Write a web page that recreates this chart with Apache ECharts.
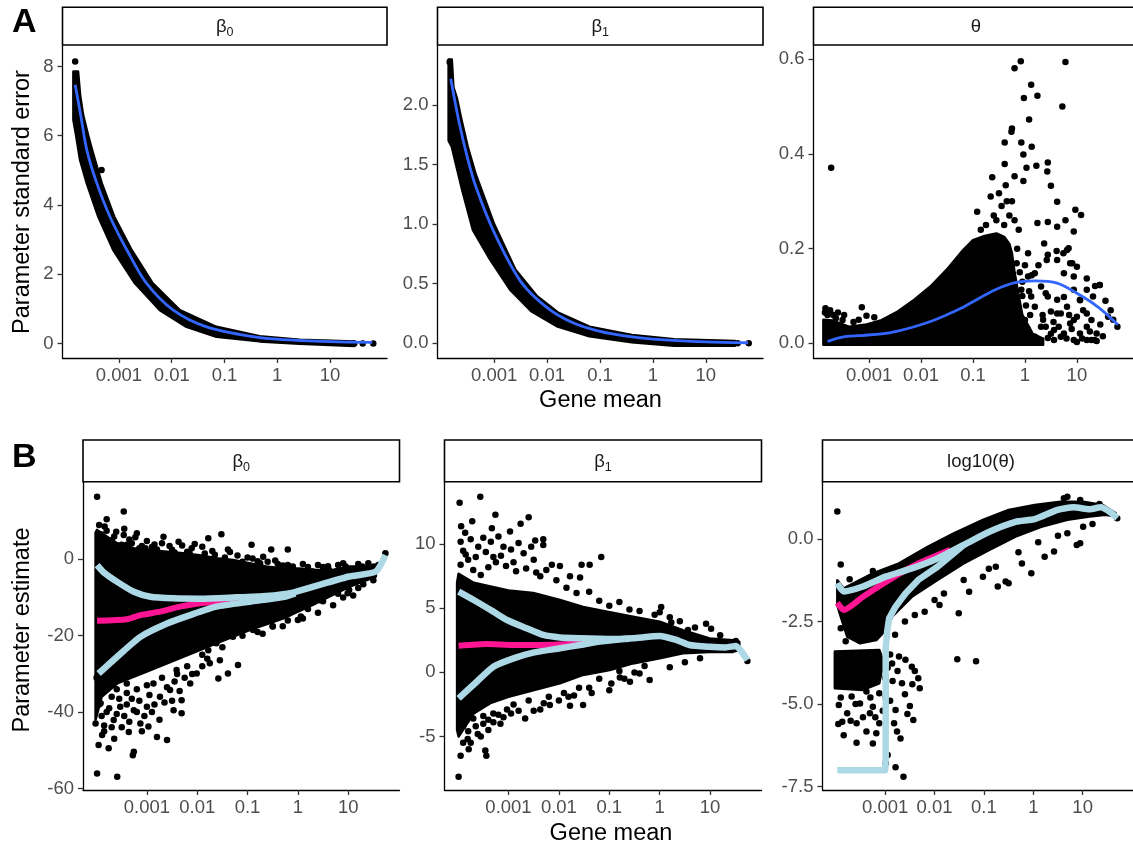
<!DOCTYPE html>
<html><head><meta charset="utf-8">
<script src="https://cdn.jsdelivr.net/npm/echarts@6/dist/echarts.min.js"></script>
<style>html,body{margin:0;padding:0;background:#fff}#c{width:1133px;height:849px}</style>
</head><body><div id="c"></div>
<script>
// ---------- DATA (x values are log10(gene mean)) ----------
const xTickValues = [-3, -2, -1, 0, 1];
const xTickLabels = ['0.001', '0.01', '0.1', '1', '10'];
const xTitle = 'Gene mean';
const yTitleA = 'Parameter standard error';
const yTitleB = 'Parameter estimate';
const stripsA = ['{b|β}{s|0}', '{b|β}{s|1}', '{b|θ}'];
const stripsB = ['{b|β}{s|0}', '{b|β}{s|1}', '{b|log10(θ)}'];
const yTicksA1 = [0, 2, 4, 6, 8],        yLabelsA1 = ['0', '2', '4', '6', '8'];
const yTicksA2 = [0, 0.5, 1, 1.5, 2],    yLabelsA2 = ['0.0', '0.5', '1.0', '1.5', '2.0'];
const yTicksA3 = [0, 0.2, 0.4, 0.6],     yLabelsA3 = ['0.0', '0.2', '0.4', '0.6'];
const yTicksB1 = [-60, -40, -20, 0],     yLabelsB1 = ['-60', '-40', '-20', '0'];
const yTicksB2 = [-5, 0, 5, 10],         yLabelsB2 = ['-5', '0', '5', '10'];
const yTicksB3 = [-7.5, -5, -2.5, 0],    yLabelsB3 = ['-7.5', '-5.0', '-2.5', '0.0'];

// A: standard error of beta0
const seB0Upper = [[-3.864,7.85],[-3.775,7.85],[-3.737,7.18],[-3.68,6.6],[-3.586,6.02],[-3.51,5.59],[-3.422,5.13],[-3.327,4.63],[-3.089,3.66],[-2.76,2.7],[-2.363,1.74],[-1.847,0.96],[-1.153,0.48],[-0.335,0.21],[0.422,0.11],[1.46,0.06]];
const seB0Lower = [[-3.864,6.46],[-3.813,6.02],[-3.737,5.3],[-3.611,4.63],[-3.391,3.66],[-3.108,2.7],[-2.698,1.74],[-2.225,0.96],[-1.72,0.48],[-1.153,0.19],[-0.335,0.06],[0.422,-0.01],[1.46,-0.07]];
const seB0Points = [[-3.83,8.14],[-3.33,5.01],[1.46,0.0],[1.62,0.0],[1.82,0.0]];
const seB0Fit = [[-3.83,7.47],[-3.72,6.55],[-3.61,5.59],[-3.42,4.63],[-3.17,3.66],[-2.85,2.70],[-2.48,1.74],[-1.97,0.96],[-1.34,0.48],[-0.33,0.17],[0.5,0.08],[1.0,0.05],[1.8,0.03]];

// A: standard error of beta1
const seB1Upper = [[-3.86,2.38],[-3.80,2.38],[-3.77,2.15],[-3.70,2.05],[-3.62,1.88],[-3.50,1.65],[-3.35,1.42],[-3.0,1.0],[-2.6,0.62],[-2.2,0.40],[-1.8,0.26],[-1.2,0.14],[-0.4,0.07],[0.4,0.035],[1.55,0.02]];
const seB1Lower = [[-3.86,1.70],[-3.80,1.65],[-3.72,1.5],[-3.6,1.28],[-3.4,0.95],[-3.1,0.72],[-2.7,0.45],[-2.3,0.27],[-1.8,0.14],[-1.2,0.06],[-0.4,0.01],[0.4,-0.02],[1.55,-0.02]];
const seB1Points = [[-3.84,2.36],[1.6,0.0],[1.81,0.0]];
const seB1Fit = [[-3.82,2.22],[-3.66,1.85],[-3.5,1.55],[-3.35,1.32],[-3.0,0.93],[-2.5,0.52],[-2.0,0.30],[-1.5,0.17],[-1.0,0.10],[-0.5,0.06],[0,0.035],[1,0.012],[1.8,0.005]];

// A: standard error of theta
const seThUpper = [[-3.88,0.05],[-3.70,0.048],[-3.39,0.035],[-3.08,0.039],[-2.76,0.049],[-2.45,0.067],[-2.13,0.092],[-1.82,0.12],[-1.51,0.155],[-1.19,0.197],[-1.0,0.218],[-0.8,0.226],[-0.55,0.232],[-0.4,0.225],[-0.3,0.21],[-0.25,0.19],[-0.2,0.15],[-0.12,0.1],[-0.05,0.06],[0.15,0.02],[0.35,0.01]];
const seThLower = [[-3.88,-0.003],[0.35,-0.003]];
const seThPoints = [[-3.73,0.371],[-0.08,0.596],[-0.20,0.581],[0.78,0.594],[0.12,0.546],[-0.02,0.518],[0.24,0.523],[0.72,0.500],[0.08,0.473],[-0.25,0.454],[-0.26,0.447],[-0.39,0.424],[-0.07,0.424],[0.13,0.415],[-0.03,0.399],[-0.39,0.379],[0.44,0.382],[0.22,0.375],[0.03,0.371],[0.43,0.363],[0.50,0.333],[-0.63,0.351],[-0.20,0.353],[-0.03,0.343],[-0.37,0.334],[0.62,0.299],[0.97,0.282],[1.08,0.271],[-0.92,0.278],[-0.66,0.310],[-0.50,0.317],[0.24,0.254],[0.44,0.256],[0.62,0.246],[0.78,0.260],[0.94,0.236],[1.35,0.121],[1.44,0.123],[1.28,0.007],[1.38,0.005],[1.78,0.035],[1.60,0.056],[0.74,0.190],[0.84,0.201],[0.61,0.195],[0.42,0.176],[0.26,0.165],[0.13,0.144],[0.91,0.169],[1.00,0.162],[0.94,0.141],[1.19,0.137],[0.40,0.106],[0.75,0.098],[1.06,0.091],[0.62,0.063],[0.94,0.049],[1.19,0.063],[0.40,0.035],[0.75,0.021],[1.00,0.003],[0.56,0.007],[0.19,0.014],[-3.14,0.076],[-3.05,0.058],[-3.84,0.074],[-3.48,0.060],[-3.69,0.060],[-3.80,0.060],[-3.64,0.053],[-3.51,0.049],[-0.16,0.169],[0.0,0.165],[0.06,0.141],[-0.07,0.113],[-0.13,0.077],[0.0,0.049],[-0.10,0.028],[0.19,0.148],[0.31,0.120],[0.44,0.099],[0.19,0.077],[0.34,0.060],[0.50,0.067],[0.62,0.092],[0.69,0.063],[0.81,0.077],[0.87,0.042],[1.00,0.056],[1.12,0.070],[1.19,0.035],[1.31,0.099],[1.38,0.021],[1.44,0.123],[1.19,0.113],[1.06,0.092],[0.94,0.113],[0.75,0.148],[0.87,0.169],[0.62,0.176],[0.44,0.187],[0.81,0.197],[0.37,0.211],[0.06,0.190],[0.44,0.011],[0.69,0.014],[0.94,0.007],[1.19,0.007],[1.34,0.007],[1.28,0.049],[1.06,0.021],[0.56,0.028],[0.31,0.035],[0.12,0.099],[-0.75,0.25],[-0.6,0.27],[-0.45,0.29],[-0.35,0.30],[-0.55,0.26],[-0.3,0.27],[-0.2,0.26],[-0.12,0.24],[-0.25,0.30],[-0.85,0.24],[-0.4,0.25],[-0.15,0.20],[-0.1,0.15],[-0.05,0.10],[0.02,0.08],[0.05,0.03],[-0.05,0.13],[0.1,0.06],[0.08,0.11],[0.3,0.005],[0.5,0.02],[0.65,0.035],[0.8,0.01],[0.9,0.03],[1.1,0.01],[1.25,0.025],[1.5,0.015],[0.35,0.05],[0.55,0.045],[0.85,0.06],[1.45,0.04],[1.55,0.09],[1.65,0.07],[1.7,0.05],[-3.85,0.065],[-3.75,0.07],[-3.6,0.065],[-3.3,0.045],[-3.2,0.05],[-2.9,0.055]];
const seThFit = [[-3.80,0.004],[-3.6,0.011],[-3.39,0.015],[-3.1,0.017],[-2.76,0.020],[-2.45,0.026],[-2.13,0.035],[-1.82,0.046],[-1.51,0.060],[-1.25,0.073],[-1.0,0.088],[-0.57,0.113],[-0.19,0.128],[0.19,0.132],[0.62,0.127],[1.06,0.102],[1.44,0.074],[1.79,0.039]];

// B: estimate of beta0
const estB0Upper = [[-4.02,7.0],[-3.99,7.7],[-3.79,5.9],[-3.59,4.2],[-3.26,2.9],[-2.93,2.4],[-2.60,2.0],[-2.28,1.6],[-1.95,1.1],[-1.62,0.3],[-1.29,-0.2],[-0.96,-1.0],[-0.63,-1.9],[-0.30,-2.4],[0.03,-2.4],[0.36,-2.8],[0.69,-2.8],[1.02,-1.9],[1.35,-1.9],[1.55,-2.4]];
const estB0Lower = [[-4.02,-42],[-3.9,-36],[-3.59,-32.5],[-2.93,-29],[-2.28,-25.5],[-1.62,-22],[-0.96,-18.5],[-0.30,-15.5],[0.36,-11.5],[1.02,-7.2],[1.55,-4.5]];
const estB0Points = [[-3.99,16.4],[-3.46,12.5],[-3.80,10.5],[-3.84,8.6],[-3.61,7.2],[-3.46,6.4],[-3.23,5.8],[-2.67,5.9],[-1.52,6.6],[-1.78,5.5],[-2.37,4.6],[-3.03,2.9],[-2.11,2.9],[-1.39,2.6],[-0.92,3.8],[-0.53,2.6],[-0.20,2.6],[-0.69,0.7],[-0.6,-0.6],[-0.10,-1.9],[0.06,-15.0],[0.0,-15.9],[-0.17,-14.1],[-0.50,-17.6],[-0.63,-16.3],[-0.89,-18.5],[-1.19,-27.7],[-1.39,-29.9],[-1.58,-31.2],[-1.75,-27.2],[-1.55,-26.4],[-2.14,-32.5],[-2.01,-29.9],[-2.31,-36.9],[-2.31,-40.3],[-2.47,-39.5],[-2.60,-47.3],[-2.80,-46.5],[-2.97,-43.8],[-3.26,-50.4],[-3.28,-51.3],[-3.59,-56.9],[-3.99,-56.1],[-3.96,-48.6],[-3.76,-49.5],[-3.89,-46.0],[-4.02,-43.0],[-3.66,-42.1],[-3.36,-45.2],[-3.13,-43.0],[-3.53,-38.6],[-3.26,-39.5],[-3.0,-38.6],[-2.74,-36.0],[-2.54,-34.2],[-3.92,-37.7],[-2.87,-32.5],[-2.41,-29.0],[-1.78,-23.8],[-1.98,-20.3],[-1.62,-22.0],[-1.29,-20.3],[-1.02,-17.6],[0.99,-8.9],[1.02,-8.0],[1.74,1.6],[1.51,-1.9],[1.28,-1.9],[0.95,-1.9],[0.62,-2.8],[0.29,-3.2],[0.59,-8.0],[0.43,-10.7],[0.16,-12.4],[-3.9,4.5],[-3.7,5.0],[-3.5,3.8],[-3.3,4.2],[-3.1,3.5],[-2.9,3.2],[-2.5,2.5],[-2.2,2.0],[-1.9,3.3],[-1.7,2.2],[-1.2,1.0],[-1.0,0.5],[-0.8,-0.5],[-0.4,-1.2],[-0.2,-1.5],[0.2,-2.0],[0.5,-2.0],[0.8,-1.5],[1.2,-1.2],[1.4,-1.0],[1.6,-1.5],[1.5,-3.6],[1.2,-4.6],[-3.8,-40],[-3.7,-36],[-3.4,-35],[-3.2,-34],[-3.0,-33],[-2.7,-31],[-2.4,-30],[-2.2,-28],[-1.9,-25],[-1.5,-23],[-1.1,-20],[-0.8,-19],[-0.5,-17.5],[-0.2,-16],[0.2,-13],[0.5,-11],[0.8,-9],[1.2,-7.5],[-3.5,-44],[-3.85,-45],[-3.95,-38],[-3.9,-41],[-3.85,-43.5],[-3.75,-39],[-3.7,-44],[-3.65,-47],[-3.6,-40.5],[-3.55,-36.5],[-3.45,-41],[-3.4,-38],[-3.35,-42.5],[-3.3,-36.5],[-3.2,-40],[-3.15,-37],[-3.1,-45],[-3.05,-41],[-2.95,-35.5],[-2.9,-40],[-2.85,-38],[-2.75,-42],[-2.65,-37.5],[-2.6,-33.5],[-2.5,-37],[-2.45,-32],[-2.35,-34.5],[-2.25,-31],[-2.1,-30],[-1.9,-28],[-1.8,-26],[-3.8,-34],[-3.6,-34],[-3.4,-32.5],[-3.95,-33],[-4.0,-31],[-3.95,9],[-3.9,6.5],[-3.85,3.5],[-3.8,7.5],[-3.75,2.8],[-3.65,6],[-3.55,3.2],[-3.45,8],[-3.4,3.8],[-3.35,5.2],[-3.2,6.8],[-3.15,2.9],[-3.0,4.8],[-2.85,3.9],[-2.8,2.6],[-2.7,4.2],[-2.55,3.5],[-2.45,1.8],[-2.3,3.6],[-2.15,1.5],[-2.05,4.0],[-1.85,1.5],[-1.65,1.2],[-1.45,0.5],[-1.35,1.9],[-1.1,-0.6],[-0.9,0.2],[-0.75,-1.0],[-0.45,-0.3],[-0.3,-1.6],[0.1,-1.2],[0.4,-1.5],[0.6,-1.8],[0.9,-1.0],[0.9,-10],[0.7,-12],[0.4,-14],[0.1,-15.5],[-0.3,-17.5],[-0.7,-19.5],[1.3,-6.5],[1.5,-5.5],[1.1,-9.5]];
const estB0Hi = [[-3.99,-1.5],[-3.85,-3.5],[-3.59,-5.9],[-3.26,-8.5],[-2.93,-9.8],[-2.47,-10.2],[-1.95,-10.3],[-1.29,-10.0],[-0.63,-9.6],[-0.10,-8.7],[0.43,-6.7],[1.02,-4.5],[1.55,-3.2],[1.74,1.1]];
const estB0Lo = [[-3.96,-29.9],[-3.59,-25.5],[-3.13,-20.3],[-2.60,-16.8],[-2.14,-14.6],[-1.62,-12.4],[-0.96,-11.1],[-0.30,-9.9],[-0.05,-8.9]];
const estB0Mid = [[-3.99,-16.1],[-3.40,-15.7],[-3.13,-14.6],[-2.74,-13.7],[-2.34,-12.4],[-1.95,-11.5],[-1.55,-11.0],[-1.2,-10.5]];

// B: estimate of beta1
const estB1Upper = [[-4.02,7.0],[-3.99,7.7],[-3.69,7.0],[-3.36,6.7],[-3.0,6.4],[-2.51,6.2],[-1.98,5.65],[-1.52,5.1],[-0.99,4.7],[-0.53,4.35],[0.0,3.96],[0.46,3.3],[0.99,2.65],[1.45,2.5],[1.58,2.4]];
const estB1Lower = [[-4.02,-4.5],[-3.99,-5.0],[-3.69,-3.2],[-3.36,-2.4],[-3.0,-1.9],[-2.51,-1.4],[-1.98,-0.86],[-1.52,-0.2],[-0.99,0.18],[-0.53,0.7],[0.0,1.1],[0.46,1.5],[0.99,1.6],[1.45,1.6],[1.58,1.75]];
const estB1Points = [[-3.97,13.25],[-3.56,13.7],[-3.26,12.3],[-2.60,12.1],[-2.76,11.6],[-3.72,11.8],[-3.94,11.4],[-3.86,10.9],[-3.33,11.25],[-2.97,11.0],[-2.47,10.3],[-2.31,10.4],[-2.31,9.95],[-1.16,9.0],[-1.55,8.4],[-1.39,8.4],[-2.14,8.4],[-1.78,7.5],[-1.58,7.4],[-2.37,7.5],[-1.98,8.3],[0.03,5.1],[0.0,4.7],[0.23,3.9],[0.56,3.3],[0.92,3.8],[1.02,3.4],[1.51,2.45],[1.74,0.89],[-3.99,-8.15],[-3.81,-5.2],[-3.79,-6.0],[-3.46,-6.1],[-3.44,-6.5],[-3.61,-4.8],[-3.16,-4.0],[-2.67,-3.6],[-3.40,-3.7],[-3.03,-2.9],[-2.37,-2.9],[-2.18,-2.55],[-1.78,-2.6],[-1.52,-2.55],[-1.35,-1.6],[-1.81,-1.9],[-0.96,-0.86],[-0.79,-0.39],[-0.20,-0.6],[-0.59,-0.73],[-0.40,-0.08],[-3.9,9.5],[-3.8,8.8],[-3.6,9.8],[-3.5,10.5],[-3.3,9.0],[-3.1,9.8],[-2.9,8.6],[-2.7,9.3],[-3.7,8.0],[-3.4,8.2],[-2.5,8.8],[-3.95,10.2],[-3.2,10.6],[-2.8,10.1],[-3.55,7.6],[-3.9,-4.2],[-3.85,-3.8],[-3.7,-3.6],[-3.5,-3.4],[-3.3,-3.2],[-2.9,-2.5],[-2.6,-2.2],[-2.2,-1.9],[-1.9,-1.6],[-1.6,-1.2],[-1.2,-0.5],[-0.8,0.1],[-0.3,0.5],[-3.95,-6.5],[-3.9,-5.5],[-3.8,-4.6],[-3.75,-5.5],[-3.65,-4.2],[-3.55,-5.0],[-3.5,-4.0],[-3.4,-4.5],[-3.3,-3.9],[-3.2,-3.3],[-3.1,-3.5],[-2.95,-3.2],[-2.8,-3.0],[-2.5,-3.0],[-2.3,-2.4],[-2.0,-2.2],[-1.7,-1.8],[-1.4,-1.2],[-1.0,-1.4],[-0.7,-0.5],[-0.5,0.0],[0.2,0.4],[0.5,0.8],[0.8,1.1],[-3.95,8.4],[-3.85,9.2],[-3.75,10.4],[-3.65,9.0],[-3.45,9.4],[-3.35,10.2],[-3.25,8.6],[-3.15,9.1],[-3.05,8.3],[-2.95,9.6],[-2.85,7.9],[-2.65,8.1],[-2.55,9.8],[-2.45,7.8],[-2.25,8.0],[-2.05,7.2],[-1.85,6.6],[-1.65,6.2],[-1.4,6.3],[-1.2,5.6],[-1.0,5.2],[-0.8,5.5],[-0.6,4.9],[-0.4,4.8],[-0.1,4.5],[0.2,4.3],[0.4,4.0],[0.7,3.5],[1.2,2.9]];
const estB1Hi = [[-3.99,6.3],[-3.69,5.65],[-3.30,4.74],[-3.03,4.09],[-2.64,3.44],[-2.31,2.92],[-1.98,2.73],[-1.58,2.66],[-1.19,2.62],[-0.86,2.6],[-0.53,2.66],[0.0,2.84],[0.33,2.53],[0.59,2.14],[0.99,2.0],[1.31,1.95],[1.51,2.06],[1.74,0.96]];
const estB1Lo = [[-3.99,-2.03],[-3.63,-0.73],[-3.30,0.44],[-2.90,1.09],[-2.51,1.54],[-1.98,1.88],[-1.58,2.14],[-1.19,2.4],[-0.86,2.55],[-0.6,2.62]];
const estB1Mid = [[-3.99,2.08],[-3.43,2.21],[-2.90,2.14],[-2.37,2.14],[-1.85,2.19],[-1.45,2.27]];

// B: estimate of log10(theta)
const estThUpper = [[-3.97,-1.25],[-3.84,-1.5],[-3.77,-1.44],[-3.25,-1.04],[-2.72,-0.74],[-2.13,-0.23],[-1.61,0.17],[-1.02,0.58],[-0.50,0.88],[0.03,1.03],[0.55,1.13],[1.01,1.13],[1.41,1.03],[1.67,0.78]];
const estThLower = [[-3.97,-2.0],[-3.90,-2.35],[-3.77,-2.96],[-3.51,-3.16],[-3.18,-3.06],[-2.99,-2.76],[-2.86,-2.35],[-2.46,-1.75],[-1.94,-1.24],[-1.41,-0.74],[-0.89,-0.33],[-0.36,0.07],[0.16,0.37],[0.69,0.58],[1.14,0.68],[1.47,0.73],[1.67,0.68]];
const estThBlockUpper = [[-4.02,-3.41],[-3.12,-3.36],[-3.06,-3.6]];
const estThBlockLower = [[-4.02,-4.52],[-3.45,-4.57],[-3.12,-4.37],[-3.06,-3.9]];
const estThPoints = [[-3.97,0.83],[-3.90,-0.77],[-3.72,-1.22],[-3.25,-0.97],[-1.54,-3.64],[-1.16,-3.70],[-1.51,-2.25],[-2.20,-2.20],[-2.0,-1.85],[-1.81,-1.65],[-1.41,-1.24],[-1.02,-1.14],[-0.76,-0.84],[-0.50,-1.34],[-0.23,-0.74],[-0.04,-1.04],[0.23,-0.54],[0.42,-0.38],[0.88,-0.18],[0.95,-0.13],[0.69,0.17],[1.01,0.37],[-0.72,-1.44],[-0.56,-1.29],[-3.94,-5.03],[-3.87,-5.53],[-3.84,-5.94],[-3.58,-6.17],[-3.38,-5.83],[-3.25,-6.19],[-3.18,-5.88],[-3.12,-5.58],[-2.82,-5.58],[-2.76,-5.83],[-2.69,-6.04],[-2.43,-5.48],[-2.50,-5.06],[-2.30,-4.52],[-2.33,-4.22],[-2.46,-3.87],[-2.59,-3.66],[-2.72,-3.56],[-2.86,-3.77],[-2.79,-5.18],[-2.66,-4.37],[-2.99,-4.77],[-3.77,-5.28],[-3.31,-5.28],[-3.51,-4.98],[-3.68,-4.77],[-2.99,-6.79],[-2.79,-6.91],[-2.63,-7.20],[-2.95,-6.54],[-3.58,-5.58],[-3.25,-5.08],[-3.38,-4.62],[-3.12,-4.67],[0.62,1.23],[0.69,1.28],[0.95,1.18],[1.34,1.06],[1.70,0.63],[-2.6,-2.5],[-2.4,-2.3],[-1.9,-2.0],[-1.3,-1.6],[-0.9,-0.9],[-0.3,-0.4],[0.1,-0.1],[0.5,0.1],[1.2,0.45],[-2.8,-2.9],[-3.9,-2.7],[-3.8,-3.1],[-2.9,-3.5],[-2.95,-3.9],[-3.0,-4.2],[-3.6,-5.0],[-3.45,-5.4],[-3.3,-4.8],[-3.2,-5.4],[-3.05,-5.2],[-2.9,-4.9],[-2.85,-4.3],[-2.75,-4.0],[-2.6,-4.7],[-2.55,-5.3],[-2.45,-4.4],[-2.4,-4.0],[-3.7,-5.5],[-3.9,-4.8],[-3.95,-5.6]];
const estThHi = [[-3.97,-1.34],[-3.84,-1.59],[-3.45,-1.44],[-2.99,-1.14],[-2.46,-0.89],[-1.94,-0.59],[-1.41,-0.18],[-0.89,0.22],[-0.36,0.52],[0.03,0.60],[0.49,0.88],[0.82,0.96],[1.14,0.90],[1.37,0.96],[1.54,0.83],[1.70,0.63]];
const estThLo = [[-3.97,-7.0],[-3.0,-7.0],[-2.99,-6.6],[-2.99,-3.3],[-2.96,-2.8],[-2.92,-2.4],[-2.79,-2.05],[-2.59,-1.65],[-2.33,-1.24],[-1.94,-0.84],[-1.61,-0.43],[-1.41,-0.18]];
const estThMid = [[-3.97,-1.93],[-3.84,-2.15],[-3.45,-1.75],[-2.92,-1.24],[-2.33,-0.74],[-1.68,-0.33]];

// ---------- LAYOUT & STYLE ----------
const FONT = '"Liberation Sans", Arial, Helvetica, sans-serif';
const BLUE = '#3366FF', LIGHT = '#ADD8E6', PINK = '#FF1493';
const rowA = {top: 46, height: 312, xr: [-4.07, 2.08], stripY: 7.3, stripH: 37.7};
const rowB = {top: 482, height: 308, xr: [-4.27, 2.02], stripY: 440, stripH: 41.7};
const layout = [
  Object.assign({left: 62.5, width: 324.5}, rowA),
  Object.assign({left: 437.5, width: 325.5}, rowA),
  Object.assign({left: 813.5, width: 325}, rowA),
  Object.assign({left: 83, width: 316.5}, rowB),
  Object.assign({left: 444.5, width: 317}, rowB),
  Object.assign({left: 822.5, width: 317}, rowB)
];
const panels = [
  {strip: stripsA[0], yr: [-0.42, 8.59], yt: yTicksA1, yl: yLabelsA1, bands: [[seB0Upper, seB0Lower]], points: seB0Points,
   lines: [{d: seB0Fit, c: BLUE, w: 2.8, s: 0.3}]},
  {strip: stripsA[1], yr: [-0.123, 2.494], yt: yTicksA2, yl: yLabelsA2, bands: [[seB1Upper, seB1Lower]], points: seB1Points,
   lines: [{d: seB1Fit, c: BLUE, w: 2.8, s: 0.3}]},
  {strip: stripsA[2], yr: [-0.031, 0.628], yt: yTicksA3, yl: yLabelsA3, bands: [[seThUpper, seThLower]], points: seThPoints,
   lines: [{d: seThFit, c: BLUE, w: 2.8, s: 0.3}]},
  {strip: stripsB[0], yr: [-60.4, 20.25], yt: yTicksB1, yl: yLabelsB1, bands: [[estB0Upper, estB0Lower]], points: estB0Points,
   lines: [{d: estB0Mid, c: PINK, w: 6, s: 0.2}, {d: estB0Lo, c: LIGHT, w: 6.5, s: 0.2}, {d: estB0Hi, c: LIGHT, w: 6.5, s: 0.2}]},
  {strip: stripsB[1], yr: [-9.18, 14.86], yt: yTicksB2, yl: yLabelsB2, bands: [[estB1Upper, estB1Lower]], points: estB1Points,
   lines: [{d: estB1Mid, c: PINK, w: 6, s: 0.2}, {d: estB1Lo, c: LIGHT, w: 6.5, s: 0.2}, {d: estB1Hi, c: LIGHT, w: 6.5, s: 0.2}]},
  {strip: stripsB[2], yr: [-7.6, 1.725], yt: yTicksB3, yl: yLabelsB3, bands: [[estThUpper, estThLower], [estThBlockUpper, estThBlockLower]], points: estThPoints,
   lines: [{d: estThMid, c: PINK, w: 6, s: 0.2}, {d: estThLo, c: LIGHT, w: 6.5, s: false}, {d: estThHi, c: LIGHT, w: 6.5, s: 0.2}]}
];

function makeAxis(dim, i, range, ticks, labels) {
  const fmt = v => { const k = ticks.findIndex(t => Math.abs(t - v) < 1e-9); return k >= 0 ? labels[k] : ''; };
  return {
    type: 'value', gridIndex: i, min: range[0], max: range[1], scale: true,
    axisLine: {show: true, onZero: false, lineStyle: {color: '#000', width: 1.3}},
    axisTick: {show: true, customValues: ticks, length: 5, lineStyle: {color: '#333', width: 1.3}},
    axisLabel: {show: true, customValues: ticks, formatter: fmt, color: '#4d4d4d', fontSize: 18.5, fontFamily: FONT, margin: dim === 'x' ? 8 : 9},
    splitLine: {show: false}
  };
}
function bandSeries(i, upper, lower) {
  const ring = upper.concat(lower.slice().reverse());
  return {
    type: 'custom', xAxisIndex: i, yAxisIndex: i, data: ring, encode: {x: 0, y: 1}, silent: true, z: 2, clip: true,
    renderItem: (params, api) => params.dataIndex !== 0 ? null : {
      type: 'polygon', shape: {points: ring.map(p => api.coord(p))},
      style: {fill: '#000', stroke: '#000', lineWidth: 2.5, lineJoin: 'round'}
    }
  };
}

const stripRich = {
  b: {fontSize: 18.5, lineHeight: 24, fill: '#1a1a1a', fontFamily: FONT},
  s: {fontSize: 12.5, lineHeight: 12, verticalAlign: 'bottom', fill: '#1a1a1a', fontFamily: FONT}
};
const grids = [], xAxes = [], yAxes = [], series = [], graphics = [];
panels.forEach((p, i) => {
  const L = layout[i];
  grids.push({left: L.left, top: L.top, width: L.width, height: L.height, containLabel: false});
  xAxes.push(makeAxis('x', i, L.xr, xTickValues, xTickLabels));
  yAxes.push(makeAxis('y', i, p.yr, p.yt, p.yl));
  p.bands.forEach(b => series.push(bandSeries(i, b[0], b[1])));
  series.push({type: 'scatter', xAxisIndex: i, yAxisIndex: i, data: p.points, symbol: 'circle', symbolSize: 6.5,
    itemStyle: {color: '#000', opacity: 1}, silent: true, z: 3});
  p.lines.forEach((l, k) => series.push({type: 'line', xAxisIndex: i, yAxisIndex: i, data: l.d, showSymbol: false, symbol: 'none',
    smooth: l.s, lineStyle: {color: l.c, width: l.w, cap: 'butt', join: 'round', opacity: 1}, silent: true, z: 4 + k}));
  graphics.push({type: 'rect', shape: {x: L.left, y: L.stripY, width: L.width, height: L.stripH},
    style: {fill: '#fff', stroke: '#000', lineWidth: 1.6}, z: 10});
  graphics.push({type: 'text', x: L.left + L.width / 2, y: L.stripY + L.stripH / 2 + 1, z: 11,
    style: {text: p.strip, rich: stripRich, align: 'center', verticalAlign: 'middle'}});
});
const titleStyle = {fontSize: 23.5, fill: '#000', fontFamily: FONT, align: 'center', verticalAlign: 'middle'};
graphics.push({type: 'text', x: 600.5, y: 401, style: Object.assign({text: xTitle}, titleStyle)});
graphics.push({type: 'text', x: 611, y: 834, style: Object.assign({text: xTitle}, titleStyle)});
graphics.push({type: 'text', x: 22.5, y: 202, rotation: Math.PI / 2, style: Object.assign({text: yTitleA}, titleStyle)});
graphics.push({type: 'text', x: 22.5, y: 630, rotation: Math.PI / 2, style: Object.assign({text: yTitleB}, titleStyle)});
graphics.push({type: 'text', x: 12, y: 23, style: {text: 'A', fontSize: 34, fontWeight: 'bold', fill: '#000', fontFamily: FONT, verticalAlign: 'middle'}});
graphics.push({type: 'text', x: 12, y: 458, style: {text: 'B', fontSize: 34, fontWeight: 'bold', fill: '#000', fontFamily: FONT, verticalAlign: 'middle'}});

const chart = echarts.init(document.getElementById('c'), null, {renderer: 'canvas'});
chart.setOption({
  animation: false, backgroundColor: '#fff',
  textStyle: {fontFamily: FONT},
  grid: grids, xAxis: xAxes, yAxis: yAxes, series: series, graphic: graphics
});
</script></body></html>
